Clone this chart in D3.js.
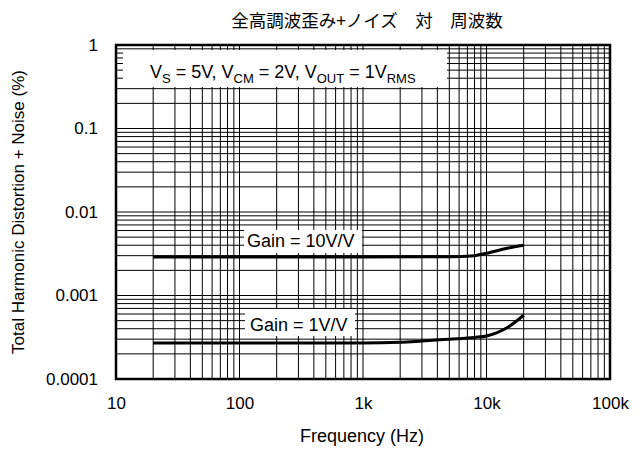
<!DOCTYPE html>
<html>
<head>
<meta charset="utf-8">
<script src="https://cdn.jsdelivr.net/npm/d3@7"></script>
<style>
  body { margin: 0; background: #fff; }
  svg { display: block; font-family: "Liberation Sans", Arial, Helvetica, sans-serif; }
</style>
</head>
<body>
<svg id="chart" width="642" height="450"></svg>
<script>
// THD+N versus frequency for two closed-loop gains
const freqGain10 = [20, 100, 1000, 5000, 8000, 10000, 15000, 20000];
const thdGain10  = [0.0029, 0.0029, 0.0029, 0.00292, 0.003, 0.0032, 0.0037, 0.0040];
const freqGain1  = [20, 100, 1000, 2000, 3000, 5000, 8000, 10000, 15000, 20000];
const thdGain1   = [0.00027, 0.00027, 0.00027, 0.000275, 0.000285, 0.0003, 0.000315, 0.000328, 0.00042, 0.00058];

const xTickValues = [10, 100, 1000, 10000, 100000];
const xTickLabels = ["10", "100", "1k", "10k", "100k"];
const yTickValues = [1, 0.1, 0.01, 0.001, 0.0001];
const yTickLabels = ["1", "0.1", "0.01", "0.001", "0.0001"];

const svg = d3.select("#chart");
const W = 642, H = 450;
const margin = { left: 116, top: 45, right: W - 610, bottom: H - 379 };

const x = d3.scaleLog().domain([10, 100000]).range([margin.left, W - margin.right]);
const y = d3.scaleLog().domain([0.0001, 1]).range([H - margin.bottom, margin.top]);

// minor + major grid values (1..9 per decade)
const xGrid = [], yGrid = [];
for (let d = 10; d < 100000; d *= 10) for (let k = 1; k <= 9; k++) xGrid.push(d * k);
for (let e = -4; e < 0; e++) for (let k = 1; k <= 9; k++) yGrid.push(k * Math.pow(10, e));

const grid = svg.append("g");
grid.selectAll("line.v").data(xGrid).join("line")
  .attr("x1", d => x(d)).attr("x2", d => x(d))
  .attr("y1", y(0.0001)).attr("y2", y(1))
  .attr("stroke", "#000").attr("stroke-width", 1);
grid.selectAll("line.h").data(yGrid).join("line")
  .attr("y1", d => y(d)).attr("y2", d => y(d))
  .attr("x1", x(10)).attr("x2", x(100000))
  .attr("stroke", "#000").attr("stroke-width", 1);

// white boxes behind annotations
svg.append("rect").attr("x", 123).attr("y", 50).attr("width", 324).attr("height", 37).attr("fill", "#fff");
svg.append("rect").attr("x", 244).attr("y", 230).attr("width", 118).attr("height", 23).attr("fill", "#fff");
svg.append("rect").attr("x", 245).attr("y", 309).attr("width", 110).attr("height", 27).attr("fill", "#fff");

// curves
const line = d3.line().x(d => x(d[0])).y(d => y(d[1])).curve(d3.curveMonotoneX);
svg.append("path").attr("d", line(freqGain10.map((f, i) => [f, thdGain10[i]])))
  .attr("fill", "none").attr("stroke", "#000").attr("stroke-width", 3);
svg.append("path").attr("d", line(freqGain1.map((f, i) => [f, thdGain1[i]])))
  .attr("fill", "none").attr("stroke", "#000").attr("stroke-width", 3);

// frame
svg.append("rect").attr("x", x(10)).attr("y", y(1))
  .attr("width", x(100000) - x(10)).attr("height", y(0.0001) - y(1))
  .attr("fill", "none").attr("stroke", "#000").attr("stroke-width", 2.5);

// axes (labels only)
const xAxis = d3.axisBottom(x).tickValues(xTickValues)
  .tickFormat((d, i) => xTickLabels[i]).tickSize(0).tickPadding(18);
const gx = svg.append("g").attr("transform", `translate(0,${y(0.0001)})`).call(xAxis);
gx.select(".domain").remove();
gx.selectAll("text").attr("font-size", 17).attr("fill", "#000")
  .attr("font-family", "Liberation Sans, Arial, sans-serif");

const yAxis = d3.axisLeft(y).tickValues(yTickValues)
  .tickFormat((d, i) => yTickLabels[i]).tickSize(0).tickPadding(18);
const gy = svg.append("g").attr("transform", `translate(${x(10)},0)`).call(yAxis);
gy.select(".domain").remove();
gy.selectAll("text").attr("font-size", 17).attr("fill", "#000")
  .attr("font-family", "Liberation Sans, Arial, sans-serif");

// titles
svg.append("text").attr("x", 367).attr("y", 27).attr("text-anchor", "middle")
  .attr("font-size", 17.5).attr("font-family", "Noto Sans CJK JP, sans-serif")
  .text("全高調波歪み+ノイズ　対　周波数");
svg.append("text").attr("x", 362).attr("y", 442).attr("text-anchor", "middle")
  .attr("font-size", 18).text("Frequency (Hz)");
svg.append("text").attr("transform", "translate(24,212) rotate(-90)")
  .attr("text-anchor", "middle").attr("font-size", 17)
  .text("Total Harmonic Distortion + Noise (%)");

// condition legend with subscripts
const cond = svg.append("text").attr("x", 150).attr("y", 78).attr("font-size", 18);
const parts = [["V", false], ["S", true], [" = 5V, V", false], ["CM", true],
  [" = 2V, V", false], ["OUT", true], [" = 1V", false], ["RMS", true]];
parts.forEach(([t, sub], i) => {
  cond.append("tspan").text(t)
    .attr("font-size", sub ? 13 : 18)
    .attr("dy", sub ? 5 : (i === 0 ? 0 : -5));
});

// curve labels
svg.append("text").attr("x", 247).attr("y", 247).attr("font-size", 18).text("Gain = 10V/V");
svg.append("text").attr("x", 250).attr("y", 331).attr("font-size", 18).text("Gain = 1V/V");
</script>
</body>
</html>
